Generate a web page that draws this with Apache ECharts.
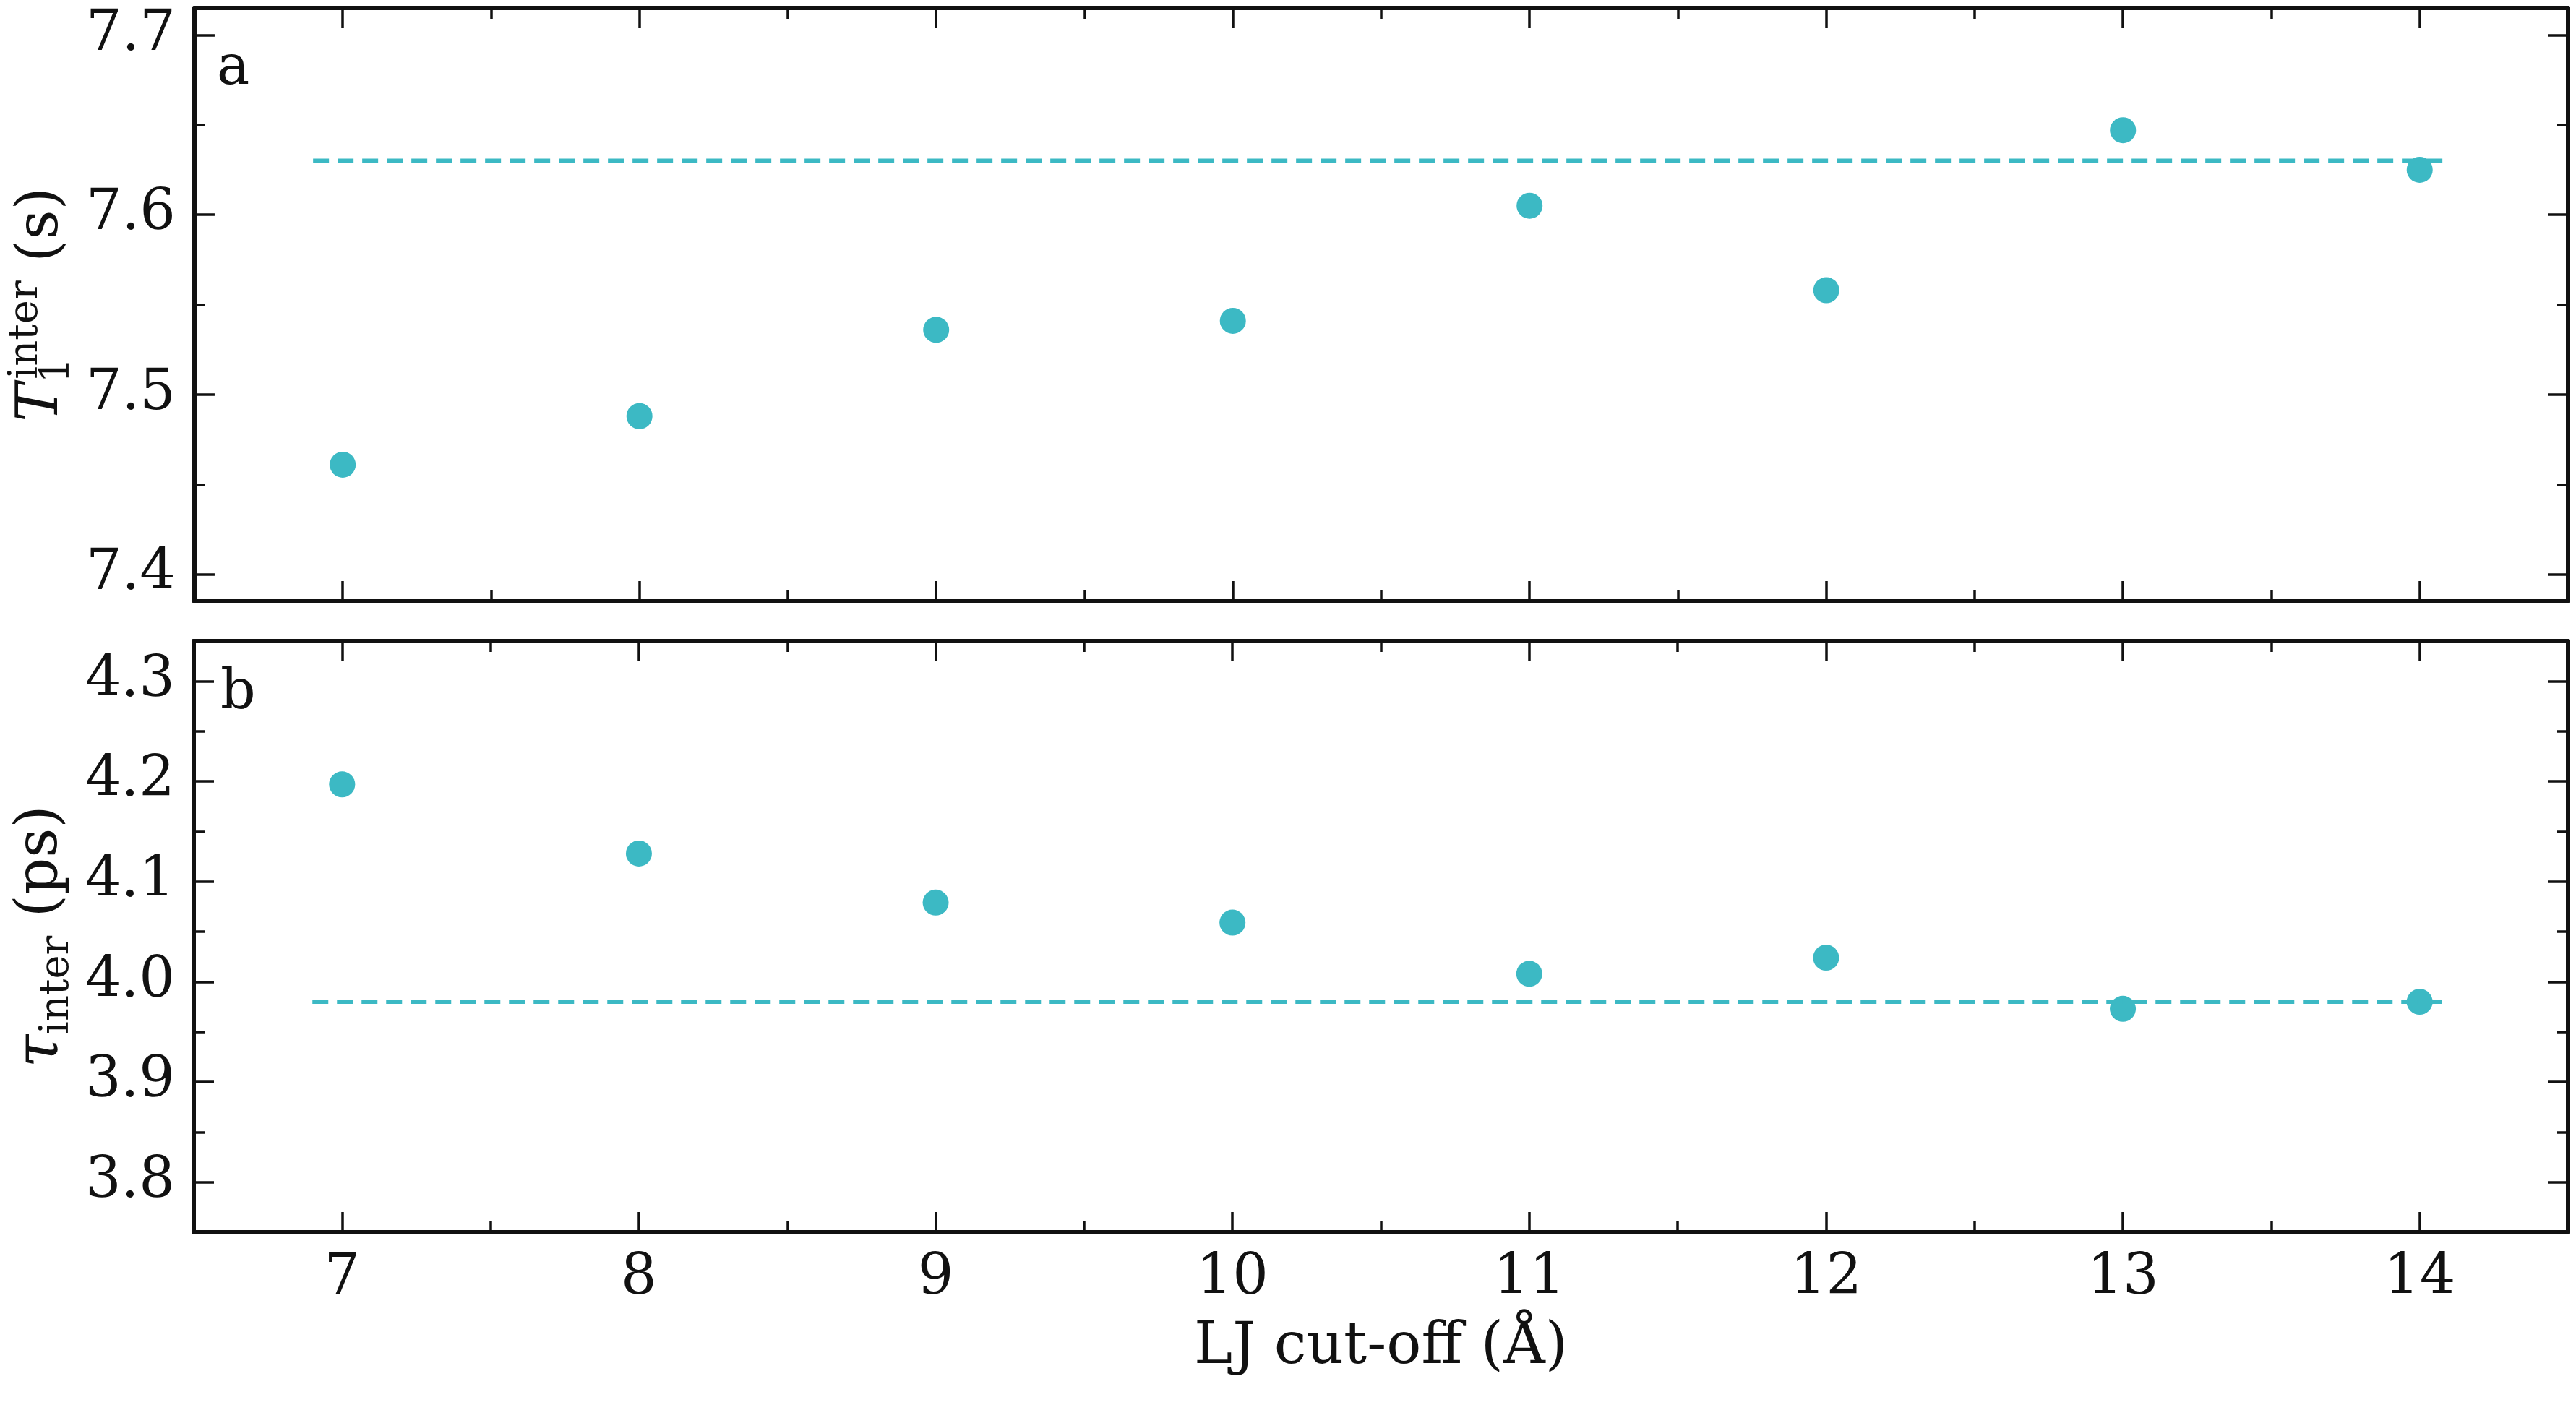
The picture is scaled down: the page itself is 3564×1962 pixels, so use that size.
<!DOCTYPE html>
<html><head><meta charset="utf-8">
<script src="https://cdn.jsdelivr.net/npm/echarts@6/dist/echarts.min.js"></script>
<style>html,body{margin:0;padding:0;background:#fff}#c{width:3564px;height:1962px}</style>
</head><body><div id="c"></div>
<script>
const cutoffs = [7, 8, 9, 10, 11, 12, 13, 14];
const t1Values = [7.461, 7.488, 7.536, 7.541, 7.605, 7.558, 7.647, 7.625];
const tauValues = [4.197, 4.128, 4.079, 4.059, 4.008, 4.024, 3.973, 3.980];
const t1Ref = 7.63, tauRef = 3.98;
const refSpan = [6.9, 14.1];
const xMajor = [7, 8, 9, 10, 11, 12, 13, 14];
const xMinor = [6.5, 7.5, 8.5, 9.5, 10.5, 11.5, 12.5, 13.5, 14.5];
const t1Major = [7.4, 7.5, 7.6, 7.7];
const t1Minor = [7.45, 7.55, 7.65];
const tauMajor = [3.8, 3.9, 4.0, 4.1, 4.2, 4.3];
const tauMinor = [3.75, 3.85, 3.95, 4.05, 4.15, 4.25];

const FONT = 'DejaVu Serif';
const COL = '#3cb9c4';
const LW = 6;
function build(type, grid, min, max, major, minor, labels, extra) {
  const list = [];
  const posA = type === 'x' ? ['bottom', 'top'] : ['left', 'right'];
  posA.forEach((p, i) => {
    [major, minor].forEach((vals, j) => {
      const a = {
        type: 'value', gridIndex: grid, min, max, position: p,
        axisLine: { show: j === 0, lineStyle: { color: '#111', width: LW } },
        axisTick: { show: true, inside: true, length: j === 0 ? 28 : 15, customValues: vals, lineStyle: { color: '#111', width: 3.5 } },
        axisLabel: { show: false },
        splitLine: { show: false }
      };
      if (i === 0 && j === 0) {
        if (labels) a.axisLabel = { show: true, customValues: vals, fontFamily: FONT, fontSize: 78, color: '#111', margin: 26,
          formatter: v => type === 'x' ? String(Math.round(v)) : v.toFixed(1) };
        Object.assign(a, extra || {});
        list.unshift(a);
      } else list.push(a);
    });
  });
  return list;
}
const x0 = build('x', 0, 6.5, 14.5, xMajor, xMinor, false);
const x1 = build('x', 1, 6.5, 14.5, xMajor, xMinor, true, {
  name: 'LJ cut-off (Å)', nameLocation: 'middle', nameGap: 120,
  nameTextStyle: { fontFamily: FONT, fontSize: 80, color: '#111' } });
const y0 = build('y', 0, 7.385, 7.715, t1Major, t1Minor, true, {
  name: '{it|T}{sub|1}{sup|inter}{n| (s)}', nameLocation: 'middle', nameGap: 155,
  nameTextStyle: { fontFamily: FONT, fontSize: 80, color: '#111',
    rich: { it: { fontFamily: FONT, fontStyle: 'italic', fontSize: 80, lineHeight: 100 },
      sub: { fontFamily: FONT, fontSize: 56, verticalAlign: 'bottom', lineHeight: 100, padding: [30,0,0,0] },
      sup: { fontFamily: FONT, fontSize: 56, verticalAlign: 'top', lineHeight: 100, padding: [0,0,40,-30] },
      n: { fontFamily: FONT, fontSize: 80, lineHeight: 100 } } } });
const y1 = build('y', 1, 3.75, 4.34, tauMajor, tauMinor, true, {
  name: '{it|τ}{sub|inter}{n| (ps)}', nameLocation: 'middle', nameGap: 155,
  nameTextStyle: { fontFamily: FONT, fontSize: 80, color: '#111',
    rich: { it: { fontFamily: FONT, fontStyle: 'italic', fontSize: 84, lineHeight: 100 },
      sub: { fontFamily: FONT, fontSize: 56, verticalAlign: 'bottom', lineHeight: 100, padding: [30,0,0,0] },
      n: { fontFamily: FONT, fontSize: 80, lineHeight: 100 } } } });
const xAxis = [x0[0], x1[0], ...x0.slice(1), ...x1.slice(1)];
const yAxis = [y0[0], y1[0], ...y0.slice(1), ...y1.slice(1)];

const chart = echarts.init(document.getElementById('c'), null, { renderer: 'canvas' });
chart.setOption({
  backgroundColor: '#fff',
  animation: false,
  grid: [
    { left: 268, right: 11, top: 11, height: 821 },
    { left: 268, right: 11, top: 887, height: 818 }
  ],
  xAxis, yAxis,
  graphic: [
    { type: 'text', left: 300, top: 58, style: { text: 'a', fontFamily: FONT, fontSize: 76, fill: '#111' } },
    { type: 'text', left: 305, top: 922, style: { text: 'b', fontFamily: FONT, fontSize: 76, fill: '#111' } }
  ],
  series: [
    { type: 'line', xAxisIndex: 0, yAxisIndex: 0, data: refSpan.map(x => [x, t1Ref]), symbol: 'none',
      lineStyle: { color: COL, width: 6, type: [22, 12] } },
    { type: 'scatter', xAxisIndex: 0, yAxisIndex: 0, data: cutoffs.map((x, i) => [x, t1Values[i]]),
      symbolSize: 36, itemStyle: { color: COL, opacity: 1 } },
    { type: 'line', xAxisIndex: 1, yAxisIndex: 1, data: refSpan.map(x => [x, tauRef]), symbol: 'none',
      lineStyle: { color: COL, width: 6, type: [22, 12] } },
    { type: 'scatter', xAxisIndex: 1, yAxisIndex: 1, data: cutoffs.map((x, i) => [x, tauValues[i]]),
      symbolSize: 36, itemStyle: { color: COL, opacity: 1 } }
  ]
});
</script></body></html>
